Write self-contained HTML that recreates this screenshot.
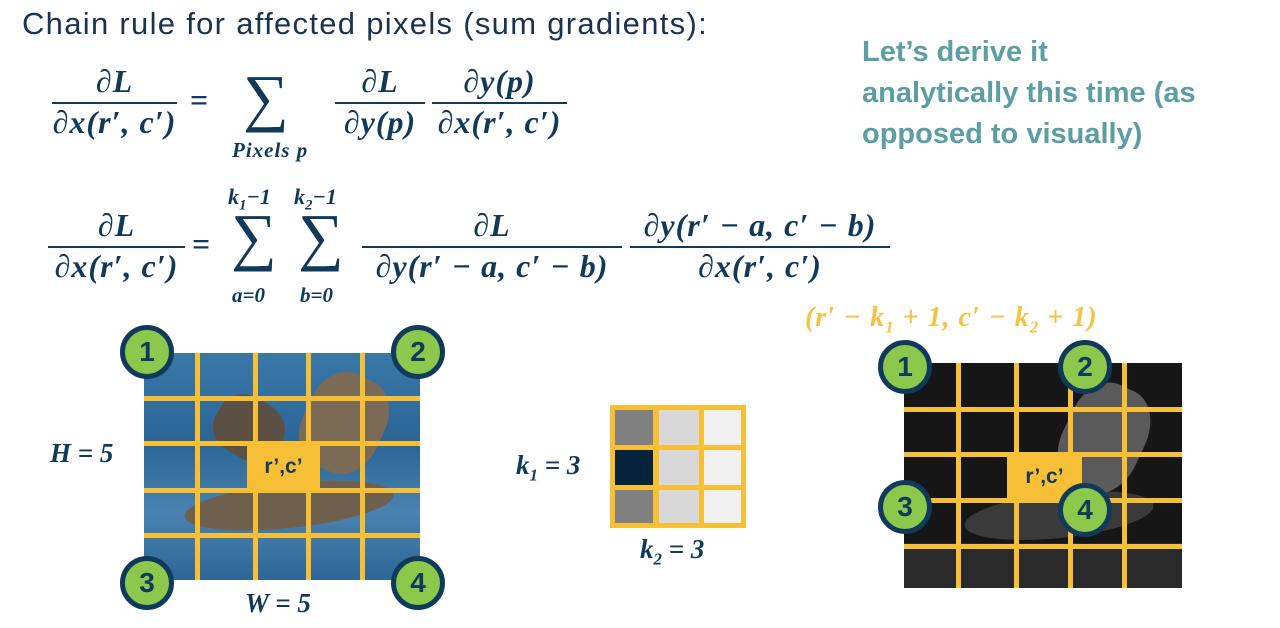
<!DOCTYPE html>
<html><head><meta charset="utf-8"><style>
body{margin:0;width:1280px;height:628px;background:#fff;position:relative;overflow:hidden;font-family:"Liberation Sans",sans-serif}
.a{position:absolute}
.m{font-family:"Liberation Serif",serif;font-weight:bold;font-style:italic;color:#10395a;white-space:nowrap}
.ln{position:absolute;height:2px;background:#10395a}
.c{position:absolute;width:44px;height:44px;border:5px solid #0f3a5c;border-radius:50%;background:#8cc84b;color:#0f3a5c;font:bold 28px "Liberation Sans",sans-serif;text-align:center;line-height:44px}
.v{position:absolute;width:5px;background:#f6bf35}
.h{position:absolute;height:5px;background:#f6bf35}
.rc{position:absolute;background:#f6bf35;color:#10395a;font:bold 21px "Liberation Sans",sans-serif;text-align:center}
.f{font-size:32px;letter-spacing:1px}
.s{font-size:64px;font-style:normal;font-weight:normal;line-height:64px}
</style></head><body>
<div class="a" style="left:22px;top:6px;font-size:31px;letter-spacing:1.3px;color:#1a3350">Chain rule for affected pixels (sum gradients):</div>
<div class="a" style="left:862px;top:32px;font-size:29px;font-weight:bold;color:#5b9ea3;line-height:41px">Let’s derive it<br>analytically this time (as<br>opposed to visually)</div>

<!-- eq1 -->
<div class="a m f" style="left:52px;top:63px;width:125px;text-align:center">∂L</div>
<div class="ln" style="left:52px;top:102px;width:125px"></div>
<div class="a m f" style="left:47px;top:104px;width:135px;text-align:center">∂x(r′, c′)</div>
<div class="a m f" style="left:190px;top:82px;font-style:normal">=</div>
<div class="a m s" style="left:243px;top:66px">∑</div>
<div class="a m" style="left:232px;top:138px;font-size:21px;letter-spacing:1px">Pixels p</div>
<div class="a m f" style="left:335px;top:63px;width:90px;text-align:center">∂L</div>
<div class="ln" style="left:335px;top:102px;width:90px"></div>
<div class="a m f" style="left:330px;top:104px;width:100px;text-align:center">∂y(p)</div>
<div class="a m f" style="left:432px;top:63px;width:135px;text-align:center">∂y(p)</div>
<div class="ln" style="left:432px;top:102px;width:135px"></div>
<div class="a m f" style="left:427px;top:104px;width:145px;text-align:center">∂x(r′, c′)</div>

<!-- eq2 -->
<div class="a m f" style="left:48px;top:207px;width:137px;text-align:center">∂L</div>
<div class="ln" style="left:48px;top:246px;width:137px"></div>
<div class="a m f" style="left:44px;top:248px;width:145px;text-align:center">∂x(r′, c′)</div>
<div class="a m f" style="left:192px;top:226px;font-style:normal">=</div>
<div class="a m" style="left:228px;top:184px;font-size:22px">k<sub style="font-size:15px">1</sub>−1</div>
<div class="a m s" style="left:231px;top:205px">∑</div>
<div class="a m" style="left:232px;top:283px;font-size:21px">a=0</div>
<div class="a m" style="left:294px;top:184px;font-size:22px">k<sub style="font-size:15px">2</sub>−1</div>
<div class="a m s" style="left:298px;top:205px">∑</div>
<div class="a m" style="left:300px;top:283px;font-size:21px">b=0</div>
<div class="a m f" style="left:362px;top:207px;width:260px;text-align:center">∂L</div>
<div class="ln" style="left:362px;top:246px;width:260px"></div>
<div class="a m f" style="left:352px;top:248px;width:280px;text-align:center">∂y(r′ − a, c′ − b)</div>
<div class="a m f" style="left:620px;top:207px;width:280px;text-align:center">∂y(r′ − a, c′ − b)</div>
<div class="ln" style="left:630px;top:246px;width:260px"></div>
<div class="a m f" style="left:630px;top:248px;width:260px;text-align:center">∂x(r′, c′)</div>

<!-- left image -->
<div class="a" style="left:144px;top:353px;width:276px;height:227px;background:linear-gradient(180deg,#3a78a8,#2a6596 40%,#4a83b0 70%,#2d6797);overflow:hidden">
<div class="a" style="left:40px;top:130px;width:210px;height:45px;border-radius:50%;background:#6e604c;transform:rotate(-6deg)"></div>
<div class="a" style="left:70px;top:45px;width:70px;height:60px;border-radius:40%;background:#5c5044;transform:rotate(30deg)"></div>
<div class="a" style="left:160px;top:20px;width:80px;height:100px;border-radius:40%;background:#7b6a55;transform:rotate(25deg)"></div>
</div>
<div class="v" style="left:195px;top:353px;height:227px"></div>
<div class="v" style="left:253px;top:353px;height:227px"></div>
<div class="v" style="left:306px;top:353px;height:227px"></div>
<div class="v" style="left:360px;top:353px;height:227px"></div>
<div class="h" style="left:144px;top:396px;width:276px"></div>
<div class="h" style="left:144px;top:441px;width:276px"></div>
<div class="h" style="left:144px;top:488px;width:276px"></div>
<div class="h" style="left:144px;top:533px;width:276px"></div>
<div class="rc" style="left:247px;top:443px;width:73px;height:47px;line-height:47px">r’,c’</div>
<div class="c" style="left:120px;top:325px">1</div>
<div class="c" style="left:391px;top:325px">2</div>
<div class="c" style="left:120px;top:556px">3</div>
<div class="c" style="left:391px;top:556px">4</div>
<div class="a m" style="left:50px;top:438px;font-size:27px">H = 5</div>
<div class="a m" style="left:245px;top:588px;font-size:27px">W = 5</div>

<!-- kernel -->
<div class="a m" style="left:516px;top:450px;font-size:27px">k<sub style="font-size:17px">1</sub> = 3</div>
<div class="a m" style="left:640px;top:534px;font-size:27px">k<sub style="font-size:17px">2</sub> = 3</div>
<div class="a" style="left:610px;top:405px;width:136px;height:123px;background:#f6bf35"></div>
<div class="a" style="left:615px;top:410px;width:38px;height:35px;background:#808080"></div>
<div class="a" style="left:659px;top:410px;width:40px;height:35px;background:#d8d8d8"></div>
<div class="a" style="left:704px;top:410px;width:37px;height:35px;background:#f0f0f0"></div>
<div class="a" style="left:615px;top:450px;width:38px;height:35px;background:#05233a"></div>
<div class="a" style="left:659px;top:450px;width:40px;height:35px;background:#d8d8d8"></div>
<div class="a" style="left:704px;top:450px;width:37px;height:35px;background:#f0f0f0"></div>
<div class="a" style="left:615px;top:490px;width:38px;height:33px;background:#808080"></div>
<div class="a" style="left:659px;top:490px;width:40px;height:33px;background:#d8d8d8"></div>
<div class="a" style="left:704px;top:490px;width:37px;height:33px;background:#f0f0f0"></div>

<!-- right image -->
<div class="a m" style="left:805px;top:302px;font-size:28px;letter-spacing:1px;color:#f5c242">(r′ − k<sub style="font-size:17px">1</sub> + 1, c′ − k<sub style="font-size:17px">2</sub> + 1)</div>
<div class="a" style="left:904px;top:363px;width:278px;height:225px;background:#161616;overflow:hidden">
<div class="a" style="left:60px;top:130px;width:190px;height:45px;border-radius:50%;background:#3a3a3a;transform:rotate(-6deg)"></div>
<div class="a" style="left:160px;top:20px;width:80px;height:110px;border-radius:40%;background:#5a5a5a;transform:rotate(25deg)"></div>
<div class="a" style="left:0;top:180px;width:278px;height:45px;background:#2a2a2a"></div>
</div>
<div class="v" style="left:956px;top:363px;height:225px"></div>
<div class="v" style="left:1014px;top:363px;height:225px"></div>
<div class="v" style="left:1068px;top:363px;height:225px"></div>
<div class="v" style="left:1122px;top:363px;height:225px"></div>
<div class="h" style="left:904px;top:407px;width:278px"></div>
<div class="h" style="left:904px;top:452px;width:278px"></div>
<div class="h" style="left:904px;top:498px;width:278px"></div>
<div class="h" style="left:904px;top:544px;width:278px"></div>
<div class="rc" style="left:1007px;top:454px;width:75px;height:46px;line-height:46px">r’,c’</div>
<div class="c" style="left:878px;top:340px">1</div>
<div class="c" style="left:1058px;top:340px">2</div>
<div class="c" style="left:878px;top:480px">3</div>
<div class="c" style="left:1058px;top:483px">4</div>
</body></html>
